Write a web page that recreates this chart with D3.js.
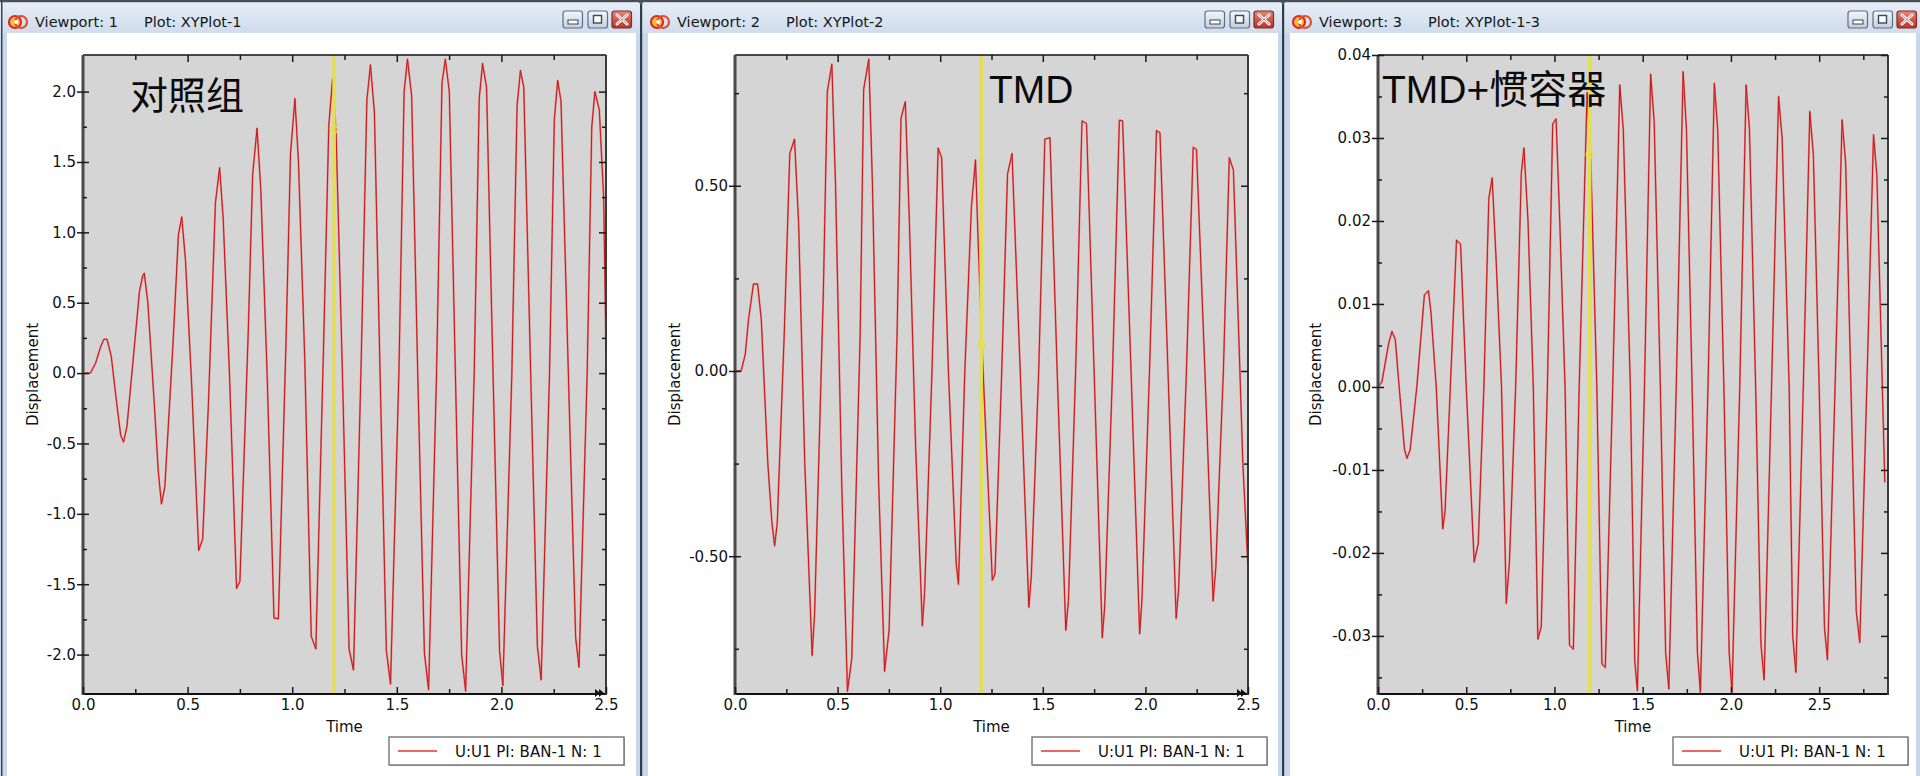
<!DOCTYPE html>
<html>
<head>
<meta charset="utf-8">
<script src="https://cdn.jsdelivr.net/npm/d3@7"></script>
<style>
  html, body { margin: 0; padding: 0; background: #ffffff; overflow: hidden; }
  svg { display: block; }
</style>
</head>
<body>
<svg id="chart" width="1920" height="776"></svg>
<script>
// ---------------- DATA ----------------
const viewportNames = ["Viewport: 1", "Viewport: 2", "Viewport: 3"];
const plotNames = ["Plot: XYPlot-1", "Plot: XYPlot-2", "Plot: XYPlot-1-3"];
const caseTitles = ["对照组", "TMD", "TMD+惯容器"];
const legendLabel = "U:U1 PI: BAN-1 N: 1";
const xAxisTitle = "Time";
const yAxisTitle = "Displacement";
const cursorTime = 1.2;
const cursorValues = [1.73, 0.07, 0.028];

// Control group (对照组)
const time1 = [0, 0.035, 0.06, 0.085, 0.1, 0.115, 0.135, 0.16, 0.18, 0.194, 0.21, 0.24, 0.27, 0.285, 0.293, 0.31, 0.34, 0.36, 0.375, 0.391,
  0.43, 0.456, 0.472, 0.49, 0.52, 0.553, 0.572, 0.6, 0.633, 0.653, 0.67, 0.7, 0.734, 0.75, 0.79, 0.811, 0.832, 0.85, 0.88, 0.913,
  0.934, 0.97, 0.992, 1.013, 1.03, 1.06, 1.091, 1.113, 1.15, 1.175, 1.193, 1.21, 1.24, 1.272, 1.293, 1.33, 1.357, 1.374, 1.393, 1.42,
  1.45, 1.47, 1.51, 1.535, 1.551, 1.571, 1.6, 1.632, 1.652, 1.69, 1.716, 1.732, 1.751, 1.78, 1.81, 1.829, 1.87, 1.894, 1.91, 1.929,
  1.96, 1.991, 2.007, 2.05, 2.075, 2.091, 2.107, 2.14, 2.172, 2.19, 2.23, 2.253, 2.269, 2.285, 2.32, 2.355, 2.371, 2.41, 2.432, 2.447,
  2.468, 2.489, 2.5];
const disp1 = [0, 0.0, 0.07, 0.19, 0.24, 0.24, 0.12, -0.2, -0.44, -0.49, -0.38, 0.1, 0.58, 0.69, 0.71, 0.5, -0.2, -0.7, -0.93, -0.81,
  0.2, 0.98, 1.11, 0.8, -0.1, -1.26, -1.18, -0.2, 1.21, 1.46, 1.1, 0.0, -1.53, -1.48, 0.3, 1.41, 1.74, 1.3, 0.0, -1.74,
  -1.745, 0.2, 1.56, 1.95, 1.5, 0.1, -1.87, -1.96, 0.2, 1.76, 2.09, 1.7, 0.0, -1.96, -2.11, 0.1, 1.94, 2.19, 1.85, 0.0,
  -1.97, -2.21, 0.0, 2.0, 2.23, 1.97, 0.0, -1.99, -2.25, 0.0, 2.06, 2.23, 2.0, 0.0, -2.0, -2.26, 0.0, 1.95, 2.2, 2.03,
  0.0, -1.97, -2.22, 0.0, 1.9, 2.15, 2.03, 0.0, -1.94, -2.18, 0.0, 1.8, 2.08, 1.93, 0.0, -1.88, -2.09, 0.0, 1.75, 2.0,
  1.87, 1.24, 0.15];

// TMD
const time2 = [0, 0.03, 0.05, 0.066, 0.09, 0.11, 0.128, 0.16, 0.18, 0.193, 0.206, 0.24, 0.267, 0.29, 0.31, 0.34, 0.376, 0.388, 0.43, 0.45,
  0.472, 0.49, 0.52, 0.548, 0.569, 0.61, 0.627, 0.652, 0.67, 0.7, 0.729, 0.751, 0.79, 0.809, 0.83, 0.85, 0.88, 0.913, 0.924, 0.96,
  0.99, 1.007, 1.04, 1.078, 1.089, 1.12, 1.152, 1.172, 1.185, 1.205, 1.254, 1.267, 1.3, 1.328, 1.35, 1.39, 1.432, 1.444, 1.48, 1.51,
  1.535, 1.57, 1.612, 1.625, 1.66, 1.691, 1.713, 1.75, 1.79, 1.802, 1.84, 1.873, 1.889, 1.93, 1.972, 1.983, 2.02, 2.054, 2.071, 2.11,
  2.15, 2.162, 2.2, 2.233, 2.249, 2.29, 2.33, 2.343, 2.38, 2.409, 2.429, 2.475, 2.5];
const disp2 = [0, 0.0, 0.045, 0.14, 0.235, 0.235, 0.14, -0.25, -0.41, -0.472, -0.41, 0.1, 0.587, 0.626, 0.4, -0.25, -0.768, -0.654, 0.2, 0.755,
  0.828, 0.5, -0.3, -0.865, -0.777, 0.1, 0.76, 0.842, 0.5, -0.3, -0.811, -0.699, 0.1, 0.682, 0.727, 0.4, -0.2, -0.688, -0.598, 0.0,
  0.602, 0.576, 0.0, -0.52, -0.576, 0.0, 0.442, 0.57, 0.35, 0.05, -0.565, -0.548, 0.0, 0.531, 0.587, 0.0, -0.638, -0.554, 0.0, 0.626,
  0.63, 0.0, -0.7, -0.62, 0.0, 0.675, 0.668, 0.0, -0.72, -0.632, 0.0, 0.677, 0.675, 0.0, -0.71, -0.62, 0.0, 0.649, 0.643, 0.0,
  -0.668, -0.587, 0.0, 0.604, 0.598, 0.0, -0.621, -0.531, 0.0, 0.576, 0.542, -0.25, -0.531];

// TMD + inerter (惯容器)
const time3 = [0, 0.022, 0.06, 0.079, 0.098, 0.12, 0.15, 0.164, 0.182, 0.22, 0.263, 0.286, 0.3, 0.33, 0.367, 0.38, 0.41, 0.445, 0.468, 0.5,
  0.545, 0.568, 0.6, 0.628, 0.647, 0.67, 0.7, 0.727, 0.745, 0.78, 0.812, 0.827, 0.85, 0.88, 0.906, 0.925, 0.96, 0.99, 1.009, 1.03,
  1.06, 1.085, 1.107, 1.14, 1.185, 1.205, 1.24, 1.269, 1.288, 1.33, 1.37, 1.39, 1.43, 1.455, 1.47, 1.51, 1.545, 1.565, 1.6, 1.63,
  1.648, 1.69, 1.729, 1.748, 1.78, 1.81, 1.827, 1.87, 1.906, 1.925, 1.96, 1.99, 2.006, 2.05, 2.086, 2.105, 2.14, 2.17, 2.188, 2.23,
  2.27, 2.29, 2.33, 2.35, 2.368, 2.41, 2.447, 2.467, 2.5, 2.53, 2.547, 2.59, 2.63, 2.65, 2.68, 2.71, 2.73, 2.77, 2.808, 2.827,
  2.872];
const disp3 = [0, 0.0006, 0.0052, 0.0067, 0.0057, 0.0, -0.0075, -0.0086, -0.0076, 0.0, 0.0111, 0.0116, 0.009, 0.0, -0.0171, -0.015, 0.0, 0.0177, 0.0172, 0.0,
  -0.0211, -0.0189, 0.0, 0.0227, 0.0252, 0.015, 0.0, -0.0261, -0.021, 0.0, 0.0257, 0.0288, 0.02, 0.0, -0.0304, -0.0289, 0.0, 0.0317, 0.0323, 0.02,
  0.0, -0.0311, -0.0316, 0.0, 0.0355, 0.028, 0.0, -0.0334, -0.0338, 0.0, 0.0364, 0.031, 0.0, -0.033, -0.0366, 0.0, 0.0377, 0.032, 0.0, -0.032,
  -0.0364, 0.0, 0.038, 0.031, 0.0, -0.032, -0.0368, 0.0, 0.0366, 0.031, 0.0, -0.032, -0.0368, 0.0, 0.0364, 0.031, 0.0, -0.031, -0.0353, 0.0,
  0.035, 0.03, 0.0, -0.03, -0.0344, 0.0, 0.0332, 0.028, 0.0, -0.029, -0.0329, 0.0, 0.0322, 0.027, 0.0, -0.027, -0.0308, 0.0, 0.0304, 0.0255,
  -0.0115];

// axis extents and tick values
const xDomains = [[0, 2.5], [0, 2.5], [0, 2.89]];
const yDomains = [[-2.28, 2.26], [-0.872, 0.853], [-0.037, 0.04]];
const xMajorTicks = [0, 0.5, 1.0, 1.5, 2.0, 2.5];
const xMinorTicks12 = [0.25, 0.75, 1.25, 1.75, 2.25];
const xMinorTicks3 = [0.25, 0.75, 1.25, 1.75, 2.25, 2.75];
const yMajorTicks1 = [-2.0, -1.5, -1.0, -0.5, 0.0, 0.5, 1.0, 1.5, 2.0];
const yMinorTicks1 = [-1.75, -1.25, -0.75, -0.25, 0.25, 0.75, 1.25, 1.75];
const yMajorTicks2 = [-0.5, 0.0, 0.5];
const yMinorTicks2 = [-0.75, -0.25, 0.25, 0.75];
const yMajorTicks3 = [-0.03, -0.02, -0.01, 0.0, 0.01, 0.02, 0.03, 0.04];
const yMinorTicks3 = [-0.035, -0.025, -0.015, -0.005, 0.005, 0.015, 0.025, 0.035];
const yDecimals = [1, 2, 2];

// ---------------- LAYOUT ----------------
const layout = [
  { x0: 0,    x1: 640,  l: 83,   r: 606,  closeR: 632,  legendX: 389,  ylabX: 33,   titleX: 130,  titleY: 109, titleSize: 38, arrow: true },
  { x0: 642,  x1: 1282, l: 735,  r: 1248, closeR: 1274, legendX: 1032, ylabX: 675,  titleX: 989,  titleY: 103, titleSize: 39, arrow: true },
  { x0: 1284, x1: 1920, l: 1378, r: 1888, closeR: 1917, legendX: 1673, ylabX: 1316, titleX: 1382, titleY: 103, titleSize: 39, arrow: false }
];
const plotTop = 55, plotBottom = 694;

const series = [
  { t: time1, v: disp1, yMaj: yMajorTicks1, yMin: yMinorTicks1, xMin: xMinorTicks12 },
  { t: time2, v: disp2, yMaj: yMajorTicks2, yMin: yMinorTicks2, xMin: xMinorTicks12 },
  { t: time3, v: disp3, yMaj: yMajorTicks3, yMin: yMinorTicks3, xMin: xMinorTicks3 }
];

const FONT = "'DejaVu Sans', Verdana, sans-serif";

const svg = d3.select("#chart");
const defs = svg.append("defs");

function grad(id, stops) {
  const g = defs.append("linearGradient").attr("id", id).attr("x1", 0).attr("y1", 0).attr("x2", 0).attr("y2", 1);
  stops.forEach(s => g.append("stop").attr("offset", s[0]).attr("stop-color", s[1]));
}
grad("tb", [[0, "#e6eef8"], [0.5, "#dbe5f2"], [1, "#cfdcec"]]);
grad("btn", [[0, "#f5f8fc"], [1, "#c3cedc"]]);
grad("cls", [[0, "#e88a7e"], [0.5, "#d2574a"], [1, "#b8372c"]]);

svg.append("rect").attr("width", 1920).attr("height", 776).attr("fill", "#ffffff");

layout.forEach((p, i) => {
  const s = series[i];
  const g = svg.append("g");
  const w = p.x1 - p.x0;

  // window frame, title bar, content
  g.append("rect").attr("x", p.x0).attr("y", 0).attr("width", w).attr("height", 776).attr("fill", "#c8d7ea");
  g.append("rect").attr("x", p.x0).attr("y", 2).attr("width", w).attr("height", 31).attr("fill", "url(#tb)");
  g.append("rect").attr("x", p.x0 + (i === 0 ? 7 : 6)).attr("y", 33).attr("width", w - (i === 0 ? 11 : 10)).attr("height", 743).attr("fill", "#ffffff");

  // title icon
  const ix = p.x0 + 18, iy = 22;
  g.append("circle").attr("cx", ix - 3).attr("cy", iy).attr("r", 6).attr("fill", "#f7c23a").attr("stroke", "#d8282a").attr("stroke-width", 2.2);
  g.append("circle").attr("cx", ix + 3).attr("cy", iy).attr("r", 6).attr("fill", "none").attr("stroke", "#e0502a").attr("stroke-width", 2.2);
  g.append("circle").attr("cx", ix - 2).attr("cy", iy).attr("r", 2).attr("fill", "#ffffff");

  g.append("text").attr("x", p.x0 + 35).attr("y", 27).attr("font-family", FONT).attr("font-size", 14.5)
    .attr("fill", "#151515").text(viewportNames[i]);
  g.append("text").attr("x", p.x0 + 144).attr("y", 27).attr("font-family", FONT).attr("font-size", 14.5)
    .attr("fill", "#151515").text(plotNames[i]);

  // window buttons
  const cr = p.closeR;
  const btn = (bx, fill, stroke) => g.append("rect").attr("x", bx).attr("y", 11).attr("width", 19.5).attr("height", 17)
    .attr("rx", 2.5).attr("fill", fill).attr("stroke", stroke).attr("stroke-width", 1.2);
  btn(cr - 69, "url(#btn)", "#5d6e86");
  g.append("rect").attr("x", cr - 64).attr("y", 20).attr("width", 10).attr("height", 4).attr("fill", "#ffffff").attr("stroke", "#39465a").attr("stroke-width", 1);
  btn(cr - 44, "url(#btn)", "#5d6e86");
  g.append("rect").attr("x", cr - 38.5).attr("y", 15.5).attr("width", 8).attr("height", 7.5).attr("fill", "#ffffff").attr("stroke", "#39465a").attr("stroke-width", 1.4);
  btn(cr - 20, "url(#cls)", "#7e2a25");
  g.append("path").attr("d", `M${cr - 15},${15} L${cr - 5},${24} M${cr - 5},${15} L${cr - 15},${24}`)
    .attr("stroke", "#ffffff").attr("stroke-width", 3).attr("stroke-linecap", "round");
  g.append("path").attr("d", `M${cr - 15},${15} L${cr - 5},${24} M${cr - 5},${15} L${cr - 15},${24}`)
    .attr("stroke", "#8a3a34").attr("stroke-width", 0.6);

  // scales
  const x = d3.scaleLinear().domain(xDomains[i]).range([p.l, p.r]);
  const y = d3.scaleLinear().domain(yDomains[i]).range([plotBottom, plotTop]);

  // plot background
  g.append("rect").attr("x", p.l).attr("y", plotTop).attr("width", p.r - p.l).attr("height", plotBottom - plotTop).attr("fill", "#d5d5d5");

  const clipId = "clip" + i;
  defs.append("clipPath").attr("id", clipId).append("rect")
    .attr("x", p.l).attr("y", plotTop).attr("width", p.r - p.l).attr("height", plotBottom - plotTop);

  // data line
  const pts = d3.zip(s.t, s.v);
  const line = d3.line().x(d => x(d[0])).y(d => y(d[1]));
  g.append("path").datum(pts).attr("clip-path", `url(#${clipId})`)
    .attr("d", line).attr("fill", "none").attr("stroke", "#ee3a3a").attr("stroke-width", 1.9).attr("stroke-opacity", 0.55)
    .attr("stroke-linejoin", "round");
  g.append("path").datum(pts).attr("clip-path", `url(#${clipId})`)
    .attr("d", line).attr("fill", "none").attr("stroke", "#c81818").attr("stroke-width", 1.0)
    .attr("stroke-linejoin", "round");

  // yellow cursor
  g.append("line").attr("x1", x(cursorTime)).attr("x2", x(cursorTime)).attr("y1", plotTop).attr("y2", plotBottom)
    .attr("stroke", "#e4de52").attr("stroke-width", 3.5);
  g.append("circle").attr("cx", x(cursorTime)).attr("cy", y(cursorValues[i])).attr("r", 3.5)
    .attr("fill", "none").attr("stroke", "#e4de52").attr("stroke-width", 1.5);

  // frame
  g.append("line").attr("x1", p.l).attr("x2", p.r).attr("y1", plotTop).attr("y2", plotTop).attr("stroke", "#111").attr("stroke-width", 1.6);
  g.append("line").attr("x1", p.l).attr("x2", p.r).attr("y1", plotBottom).attr("y2", plotBottom).attr("stroke", "#111").attr("stroke-width", 2);
  g.append("line").attr("x1", p.l).attr("x2", p.l).attr("y1", plotTop).attr("y2", plotBottom + 1).attr("stroke", "#4a4a4a").attr("stroke-width", 3);
  g.append("line").attr("x1", p.r).attr("x2", p.r).attr("y1", plotTop).attr("y2", plotBottom + 1).attr("stroke", "#3a3a3a").attr("stroke-width", 2);

  const styleAxis = (sel) => {
    sel.select(".domain").remove();
    sel.selectAll(".tick line").attr("stroke", "#1a1a1a").attr("stroke-width", 1.5);
    sel.selectAll("text").attr("font-family", FONT).attr("font-size", 15).attr("fill", "#111");
  };

  // bottom axis
  g.append("g").attr("transform", `translate(0,${plotBottom})`)
    .call(d3.axisBottom(x).tickValues(xMajorTicks).tickSizeInner(-7).tickSizeOuter(0).tickPadding(5).tickFormat(d => d.toFixed(1)))
    .call(styleAxis);
  g.append("g").attr("transform", `translate(0,${plotBottom})`)
    .call(d3.axisBottom(x).tickValues(s.xMin).tickSizeInner(-5).tickSizeOuter(0).tickFormat(""))
    .call(styleAxis);
  // top axis
  g.append("g").attr("transform", `translate(0,${plotTop})`)
    .call(d3.axisTop(x).tickValues(xMajorTicks.filter(v => v > xDomains[i][0] && v < xDomains[i][1])).tickSizeInner(-7).tickSizeOuter(0).tickFormat(""))
    .call(styleAxis);
  g.append("g").attr("transform", `translate(0,${plotTop})`)
    .call(d3.axisTop(x).tickValues(s.xMin).tickSizeInner(-5).tickSizeOuter(0).tickFormat(""))
    .call(styleAxis);
  // left axis
  const la = g.append("g").attr("transform", `translate(${p.l},0)`)
    .call(d3.axisLeft(y).tickValues(s.yMaj).tickSizeInner(-6).tickSizeOuter(0).tickPadding(7).tickFormat(d => d.toFixed(yDecimals[i])))
    .call(styleAxis);
  la.selectAll(".tick").append("line").attr("x1", 0).attr("x2", -6).attr("stroke", "#1a1a1a").attr("stroke-width", 1.5);
  g.append("g").attr("transform", `translate(${p.l},0)`)
    .call(d3.axisLeft(y).tickValues(s.yMin).tickSizeInner(-4).tickSizeOuter(0).tickFormat(""))
    .call(styleAxis);
  // right axis
  g.append("g").attr("transform", `translate(${p.r},0)`)
    .call(d3.axisRight(y).tickValues(s.yMaj).tickSizeInner(-7).tickSizeOuter(0).tickFormat(""))
    .call(styleAxis);
  g.append("g").attr("transform", `translate(${p.r},0)`)
    .call(d3.axisRight(y).tickValues(s.yMin).tickSizeInner(-4).tickSizeOuter(0).tickFormat(""))
    .call(styleAxis);

  // bottom-right double arrow marker
  if (p.arrow) {
    const ax = p.r - 11, ay = plotBottom;
    g.append("path").attr("d", `M${ax},${ay - 5} L${ax + 5},${ay - 1} L${ax},${ay + 3} Z M${ax + 4},${ay - 5} L${ax + 9},${ay - 1} L${ax + 4},${ay + 3} Z`)
      .attr("fill", "#111");
  }

  // axis titles
  g.append("text").attr("x", (p.l + p.r) / 2).attr("y", 732).attr("text-anchor", "middle")
    .attr("font-family", FONT).attr("font-size", 15).attr("fill", "#111").text(xAxisTitle);
  g.append("text").attr("transform", `translate(${p.ylabX + 5},${(plotTop + plotBottom) / 2}) rotate(-90)`)
    .attr("text-anchor", "middle").attr("font-family", FONT).attr("font-size", 15).attr("fill", "#111").text(yAxisTitle);

  // case title
  g.append("text").attr("x", p.titleX).attr("y", p.titleY)
    .attr("font-family", "'Liberation Sans', Arial, 'Noto Sans CJK SC', sans-serif")
    .attr("font-size", p.titleSize).attr("fill", "#0a0a0a").text(caseTitles[i]);

  // legend
  const lx = p.legendX, ly = 737;
  g.append("rect").attr("x", lx + 1).attr("y", ly + 1).attr("width", 235).attr("height", 28).attr("fill", "#b5b5b5");
  g.append("rect").attr("x", lx).attr("y", ly).attr("width", 235).attr("height", 28).attr("fill", "#ffffff")
    .attr("stroke", "#6a6a6a").attr("stroke-width", 1.3);
  g.append("line").attr("x1", lx + 9).attr("x2", lx + 48).attr("y1", ly + 14).attr("y2", ly + 14)
    .attr("stroke", "#ee3030").attr("stroke-width", 1.6);
  g.append("text").attr("x", lx + 66).attr("y", ly + 19.5).attr("font-family", FONT).attr("font-size", 15)
    .attr("fill", "#111").text(legendLabel);
});

// window separators and top strip
[640, 1282].forEach(sx => {
  svg.append("rect").attr("x", sx).attr("y", 0).attr("width", 2.2).attr("height", 776).attr("fill", "#2f3c4a");
  svg.append("path").attr("d", `M${sx - 3},0 L${sx + 5},0 L${sx + 1},5 Z`).attr("fill", "#55606c");
});
svg.append("rect").attr("x", 0).attr("y", 0).attr("width", 1920).attr("height", 2.2).attr("fill", "#4a4f55");
svg.append("rect").attr("x", 1).attr("y", 0).attr("width", 1.5).attr("height", 776).attr("fill", "#3a4652");
</script>
</body>
</html>
